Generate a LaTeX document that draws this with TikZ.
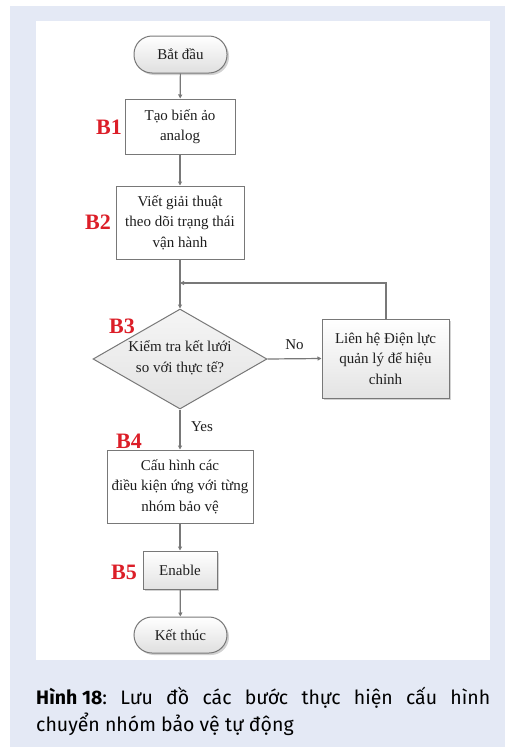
\documentclass[tikz,border=0pt]{standalone}
\usepackage{fontspec}
\setmainfont{Liberation Serif}
\newfontfamily\capfont{Fira Sans}
\usetikzlibrary{shapes.geometric,arrows.meta,shadows,positioning}
\definecolor{pagebg}{RGB}{228,233,245}
\definecolor{edgegray}{RGB}{120,120,120}
\definecolor{steplabel}{RGB}{220,30,40}
\definecolor{ink}{RGB}{30,30,30}
\tikzset{
  x=1pt, y=-1pt,
  every node/.style={font=\fontsize{15}{20.5}\selectfont, text=ink, align=center, inner sep=0pt},
  plainbox/.style={draw=edgegray, line width=1pt, fill=white, rectangle},
  shadebox/.style={draw=edgegray, line width=1pt, rectangle, top color=white, bottom color=gray!22,
    drop shadow={opacity=0.35, shadow xshift=2pt, shadow yshift=-2pt}},
  terminal/.style={draw=edgegray, line width=1pt, rectangle, rounded corners=18pt,
    top color=white, bottom color=gray!25,
    drop shadow={opacity=0.35, shadow xshift=2pt, shadow yshift=-2pt}},
  decision/.style={draw=edgegray, line width=1pt, diamond, top color=gray!8, bottom color=gray!22},
  flow/.style={draw=edgegray, line width=1.2pt, -{Triangle[length=4pt,width=4pt]}},
  link/.style={draw=edgegray, line width=1.2pt},
  stepname/.style={font=\fontsize{22}{22}\selectfont\bfseries, text=steplabel},
  edgetext/.style={font=\fontsize{15}{16}\selectfont}
}
\begin{document}
\begin{tikzpicture}
\useasboundingbox (0,0) rectangle (505,747);
% background panels
\fill[pagebg] (10,6) rectangle (505,747);
\fill[white] (36,21) rectangle (490,660);

% flowchart nodes
\node[terminal, minimum width=93pt, minimum height=37pt] (start) at (180.5,54.5) {Bắt đầu};
\node[plainbox, minimum width=110pt, minimum height=55pt] (b1) at (180,126.5) {Tạo biến ảo\\analog};
\node[plainbox, minimum width=128pt, minimum height=73pt] (b2) at (180,222.5) {Viết giải thuật\\theo dõi trạng thái\\vận hành};
\node[decision, minimum width=174pt, minimum height=100pt] (d3) at (180,359) {};
\node (d3t) at (180,358) {Kiểm tra kết lưới\\so với thực tế?};
\node[shadebox, minimum width=127pt, minimum height=79pt] (fix) at (385.5,358.5) {Liên hệ Điện lực\\quản lý để hiệu\\chỉnh};
\node[plainbox, minimum width=146pt, minimum height=73pt] (b4) at (180,486.5) {Cấu hình các\\điều kiện ứng với từng\\nhóm bảo vệ};
\node[shadebox, minimum width=74pt, minimum height=38pt] (b5) at (180,570) {Enable};
\node[terminal, minimum width=93pt, minimum height=36pt] (stop) at (180.5,635) {Kết thúc};

% step names
\node[stepname] (n1) at (109,127) {B1};
\node[stepname] (n2) at (98,222) {B2};
\node[stepname] (n3) at (122,326) {B3};
\node[stepname] (n4) at (129,441) {B4};
\node[stepname] (n5) at (124,572) {B5};

% connectors
\coordinate (join) at (180,283);
\coordinate (turn) at (386,283);
\draw[flow] (start) -- (b1);
\draw[flow] (b1) -- (b2);
\draw[link] (b2) -- (join);
\draw[flow] (join) -- (d3.north);
\draw[flow] (d3.east) -- node[edgetext, above=9pt] (nolab) {No} (fix.west);
\draw[flow] (fix.north -| turn) -- (turn) -- (join);
\draw[flow] (d3.south) -- (b4.north);
\node[edgetext] (yeslab) at (202,427) {Yes};
\draw[flow] (b4) -- (b5);
\draw[flow] (b5) -- (stop);

% caption
\node[anchor=base west, font=\capfont\fontsize{19.5}{27}\selectfont, text=black] (cap1) at (36,704)
  {\hbox to 454pt{\textbf{Hình 18}:\hfill Lưu\hfill đồ\hfill các\hfill bước\hfill thực\hfill hiện\hfill cấu\hfill hình}};
\node[anchor=base west, font=\capfont\fontsize{19.5}{27}\selectfont, text=black] (cap2) at (36,731)
  {chuyển nhóm bảo vệ tự động};
\end{tikzpicture}
\end{document}
